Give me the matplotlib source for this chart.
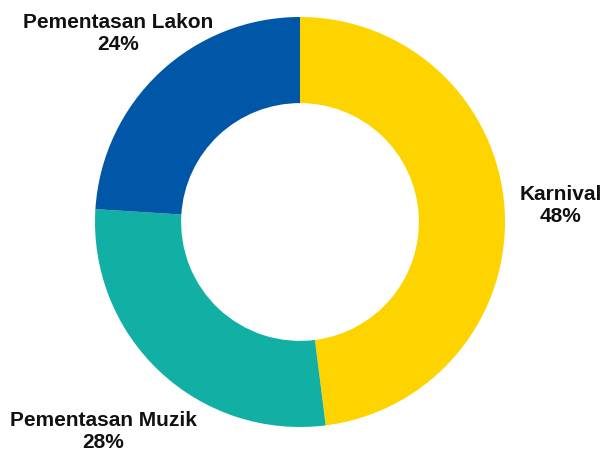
import matplotlib.pyplot as plt

labels = ['Karnival', 'Pementasan Muzik', 'Pementasan Lakon']
values = [48, 28, 24]
colors = ['#FDD400', '#12AFA5', '#0057A8']

plt.rcParams['font.family'] = ['Liberation Sans', 'DejaVu Sans']

fig = plt.figure(figsize=(6.04, 4.53), dpi=100)
ax = fig.add_axes([95 / 604, 26 / 453, 410 / 604, 410 / 453])
ax.pie(values, colors=colors, startangle=90, counterclock=False,
       wedgeprops=dict(width=0.42, edgecolor='none'), radius=1.0)
ax.set_xlim(-1, 1)
ax.set_ylim(-1, 1)
ax.set_aspect('equal')
ax.axis('off')

# label positions in pixels (x center, y center of the two-line block)
label_pos = {'Karnival': (561, 206),
             'Pementasan Muzik': (103, 431),
             'Pementasan Lakon': (118, 33)}
for name, v in zip(labels, values):
    px, py = label_pos[name]
    fig.text(px / 604, 1 - py / 453, f'{name}\n{v}%', ha='center', va='center',
             fontsize=15, fontweight='bold', linespacing=1.2, color='#111111')

fig.savefig('out.png', dpi=100)
